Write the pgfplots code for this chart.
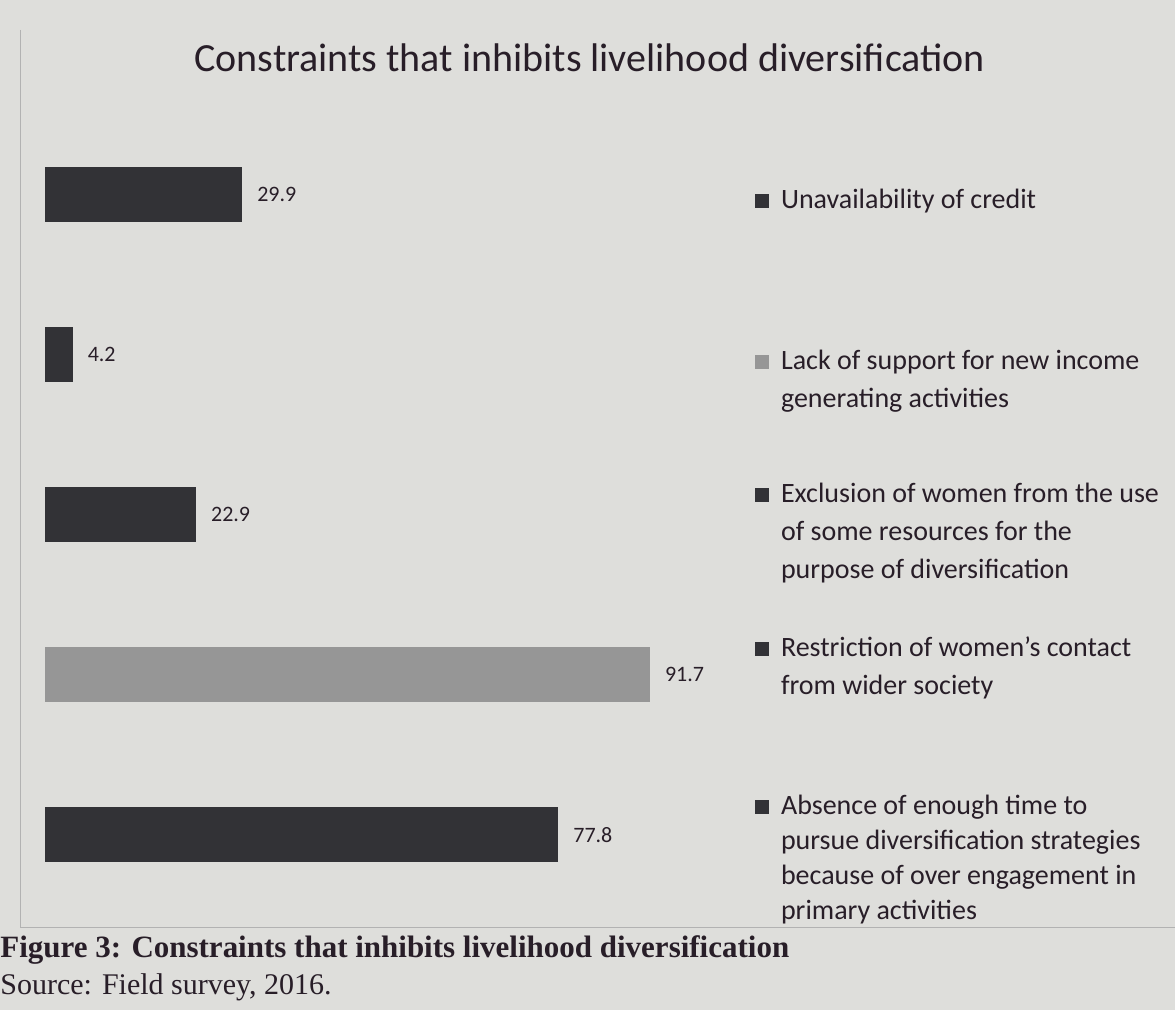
\documentclass[border=0pt]{standalone}
\usepackage{pgfplots}
\pgfplotsset{compat=1.18}
\usepackage{fontspec}
\setmainfont{Carlito}
\newfontfamily\capfont{Liberation Serif}
\definecolor{paper}{RGB}{222,222,219}
\definecolor{darkbar}{RGB}{50,50,54}
\definecolor{lightbar}{RGB}{150,150,150}
\definecolor{inkc}{RGB}{40,30,40}
\begin{document}
\begin{tikzpicture}[x=1pt,y=1pt]
\fill[paper] (0,0) rectangle (587.5,505);
\draw[gray!60,line width=0.4pt] (10,490) -- (10,41) -- (587.5,41);
\node[font=\fontsize{20}{24}\selectfont,text=inkc] at (295,476) {Constraints that inhibits livelihood diversification};
\begin{axis}[
  at={(22.5pt,47.5pt)}, anchor=south west,
  scale only axis, width=330pt, height=400pt,
  xmin=0, xmax=100, ymin=0.5, ymax=5.5,
  hide axis, clip=false,
  xbar, bar width=27.5pt, bar shift=0pt,
  nodes near coords, point meta=explicit symbolic,
  every node near coord/.append style={font=\fontsize{11}{13}\selectfont, text=inkc, anchor=west, xshift=4pt},
]
\addplot[fill=darkbar, draw=none] coordinates {(29.9,5) [29.9]};
\addplot[fill=darkbar, draw=none] coordinates {(4.2,4) [4.2]};
\addplot[fill=darkbar, draw=none] coordinates {(22.9,3) [22.9]};
\addplot[fill=lightbar, draw=none] coordinates {(91.7,2) [91.7]};
\addplot[fill=darkbar, draw=none] coordinates {(77.8,1) [77.8]};
\begin{scope}[every node/.style={anchor=north west, font=\fontsize{14}{19}\selectfont, text=inkc, align=left, inner sep=0pt},
  sq/.style={anchor=north west, inner sep=0pt, minimum size=7pt, yshift=-2.5pt}]
\node[sq, fill=darkbar] at (axis cs:107.5,5.04) {};
\node at (axis cs:111.5,5.04) {Unavailability of credit};
\node[sq, fill=lightbar] at (axis cs:107.5,4.03) {};
\node at (axis cs:111.5,4.03) {Lack of support for new income\\generating activities};
\node[sq, fill=darkbar] at (axis cs:107.5,3.2) {};
\node at (axis cs:111.5,3.2) {Exclusion of women from the use\\of some resources for the\\purpose of diversification};
\node[sq, fill=darkbar] at (axis cs:107.5,2.24) {};
\node at (axis cs:111.5,2.24) {Restriction of women's contact\\from wider society};
\node[sq, fill=darkbar] at (axis cs:107.5,1.25) {};
\node[font=\fontsize{14}{17.5}\selectfont] at (axis cs:111.5,1.25) {Absence of enough time to\\pursue diversification strategies\\because of over engagement in\\primary activities};
\end{scope}
\end{axis}
\node[anchor=west, font=\capfont\bfseries\fontsize{15.5}{17}\selectfont, text=inkc, inner sep=0pt] at (0,30) {Figure 3: Constraints that inhibits livelihood diversification};
\node[anchor=west, font=\capfont\fontsize{15}{17}\selectfont, text=inkc, inner sep=0pt] at (0,11) {Source: Field survey, 2016.};
\end{tikzpicture}
\end{document}
